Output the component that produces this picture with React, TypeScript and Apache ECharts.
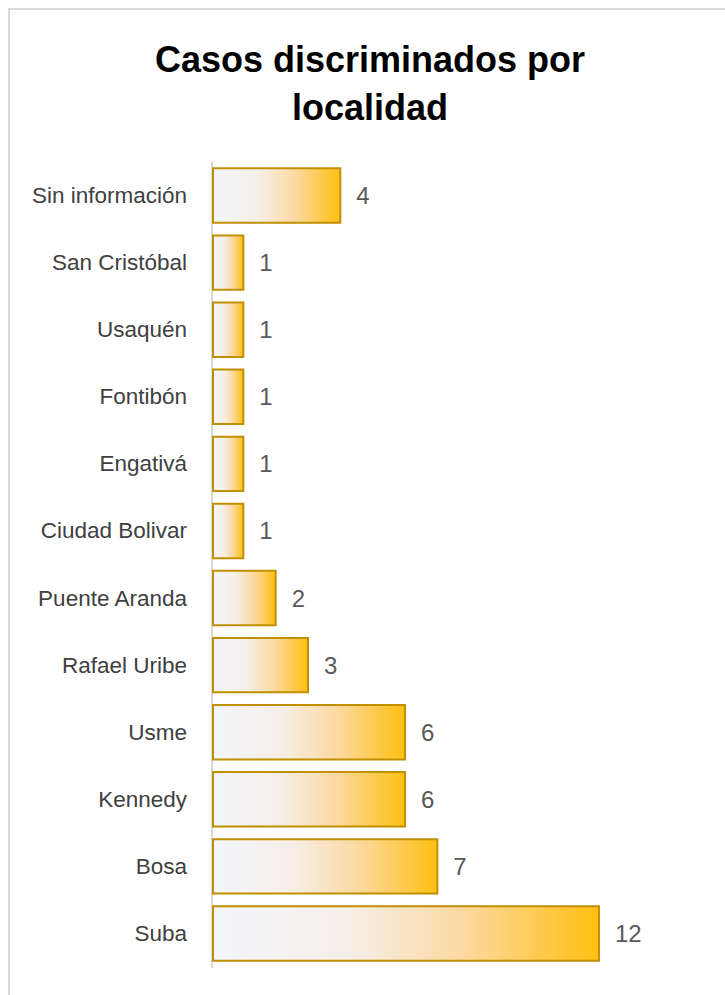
import React, { useEffect, useRef } from "react";
import * as echarts from "echarts";

const titleText = "Casos discriminados por\nlocalidad";
const categories = [
  "Sin información",
  "San Cristóbal",
  "Usaquén",
  "Fontibón",
  "Engativá",
  "Ciudad Bolivar",
  "Puente Aranda",
  "Rafael Uribe",
  "Usme",
  "Kennedy",
  "Bosa",
  "Suba",
];
const values = [4, 1, 1, 1, 1, 1, 2, 3, 6, 6, 7, 12];

const sans = "'Liberation Sans', Arial, sans-serif";

export default function App() {
  const ref = useRef<HTMLDivElement>(null);
  useEffect(() => {
    if (!ref.current) return;
    const chart = echarts.init(ref.current, null, { renderer: "svg" });
    chart.setOption({
      animation: false,
      backgroundColor: "#ffffff",
      title: {
        text: titleText,
        left: 365,
        textAlign: "center",
        top: 30,
        textStyle: {
          fontFamily: sans,
          fontSize: 36,
          fontWeight: "bold",
          color: "#000000",
          lineHeight: 48,
        },
      },
      graphic: [
        {
          type: "rect",
          shape: { x: 9, y: 9, width: 900, height: 1200 },
          style: { fill: "none", stroke: "#d9d9d9", lineWidth: 2 },
          silent: true,
        },
      ],
      grid: {
        left: 212,
        right: 125,
        top: 162,
        bottom: 28,
        containLabel: false,
        outerBoundsMode: "none",
      },
      xAxis: {
        type: "value",
        min: 0,
        max: 12,
        show: false,
      },
      yAxis: {
        type: "category",
        data: categories,
        inverse: true,
        axisLine: { show: true, lineStyle: { color: "#d9d9d9", width: 2 } },
        axisTick: { show: false },
        axisLabel: {
          margin: 25,
          fontFamily: sans,
          fontSize: 22.5,
          color: "#404040",
        },
      },
      series: [
        {
          type: "bar",
          data: values,
          barCategoryGap: "16%",
          itemStyle: {
            color: new echarts.graphic.LinearGradient(0, 0, 1, 0, [
              { offset: 0, color: "#f3f5fb" },
              { offset: 0.35, color: "#f6efe8" },
              { offset: 0.65, color: "#fcd9a0" },
              { offset: 1, color: "#ffbf10" },
            ]),
            borderColor: "#c09000",
            borderWidth: 2,
          },
          label: {
            show: true,
            position: "right",
            distance: 15,
            fontFamily: sans,
            fontSize: 24,
            color: "#595959",
          },
        },
      ],
    });
    return () => chart.dispose();
  }, []);
  return (
    <div
      ref={ref}
      style={{ position: "absolute", left: 0, top: 0, width: 725, height: 995 }}
    />
  );
}
